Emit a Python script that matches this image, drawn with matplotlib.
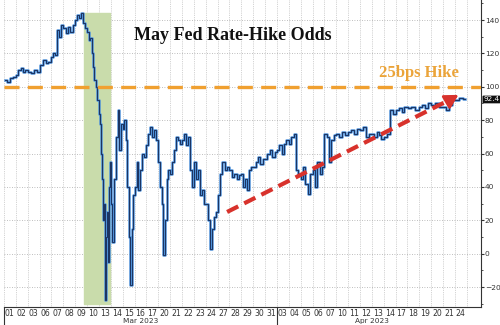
import numpy as np
import matplotlib.pyplot as plt

# trading days on the x axis
days = ['01', '02', '03', '06', '07', '08', '09', '10', '13', '14', '15', '16', '17',
        '20', '21', '22', '23', '24', '27', '28', '29', '30', '31',
        '03', '04', '05', '06', '07', '10', '11', '12', '13', '14', '17', '18', '19',
        '20', '21', '24']
months = ['Mar 2023', 'Apr 2023']
month_start = [0, 23]

# intraday odds (%), one list per trading day
odds = [
    [104, 103, 105, 106],
    [107, 110, 111, 109, 110],
    [109, 108, 110, 109],
    [113, 116, 114, 115],
    [118, 120, 119, 134, 130, 137],
    [135, 132, 136, 133, 137],
    [140, 143, 141, 144, 138, 135],
    [133, 128, 129, 120, 112, 104, 100, 92],
    [84, 78, 60, 45, 20, 30, -28, 10, 25, -5, 40, 55],
    [30, 7, 45, 70, 86, 62, 78],
    [75, 80, 68, 40, 10, -19, 15, 35],
    [40, 55, 38, 50, 60, 58],
    [65, 72, 76, 70, 74, 68],
    [55, 40, 30, -1, 20, 45, 50],
    [48, 55, 62, 70, 68, 66],
    [68, 72, 65, 70, 50, 40],
    [55, 45, 50, 35, 38, 30],
    [30, 20, 3, 15, 22, 25],
    [35, 48, 55, 50, 52],
    [50, 46, 48, 45, 47],
    [48, 40, 45, 38, 50, 52],
    [52, 55, 58, 54, 57],
    [57, 60, 62, 58, 61],
    [62, 65, 60, 66, 68],
    [66, 70, 72, 50, 48],
    [45, 52, 42, 36, 48],
    [50, 40, 55, 48, 52],
    [72, 70, 55, 68, 71],
    [72, 70, 73, 71],
    [73, 74, 72, 75],
    [74, 76, 70, 72],
    [72, 70, 73, 71, 69],
    [70, 72, 86, 84],
    [86, 87, 85, 88],
    [87, 88, 86],
    [88, 89, 87, 90],
    [89, 90, 88],
    [88, 86, 89, 92],
    [92, 93, 92.4],
]
last_value = 92.4
hike_level = 100

# annotation positions (day index, odds)
band_days = (6.2, 8.4)
band_odds = (-30, 144)
arrow_start = (18.3, 25)
arrow_end = (38.0, 96)

xs, ys = [], []
for i, vals in enumerate(odds):
    n = len(vals)
    for k, v in enumerate(vals):
        xs.append(i - 0.5 + (k + 0.5) / n)
        ys.append(v)

fig = plt.figure(figsize=(5, 3.25), dpi=100)
ax = fig.add_axes([0.008, 0.055, 0.954, 0.945])

ax.set_xlim(-0.5, 39.7)
ax.set_ylim(-32, 152)

# grid
for b in np.arange(-0.5, len(days), 1):
    ax.axvline(b, color='#c4c4c4', lw=0.6, ls=(0, (1, 1.2)), zorder=0)
for yv in range(-20, 141, 20):
    ax.axhline(yv, color='#a8a8a8', lw=0.6, ls=(0, (1, 2)), zorder=0)

# SVB window
ax.fill_between(band_days, band_odds[0], band_odds[1], color='#c9dcab', zorder=1)

ax.plot(xs, ys, drawstyle='steps-mid', color='#4d8fd6', lw=1.8, zorder=3)
ax.plot(xs, ys, drawstyle='steps-mid', color='#1b3360', lw=0.7, zorder=4)

ax.axhline(hike_level, color='#f0a030', lw=2.4, dashes=(4.5, 2.5), zorder=5)
ax.text(34.45, 108.4, '25bps Hike', color='#eba43a', fontsize=12,
        fontweight='bold', family='Liberation Serif', ha='center', va='center',
        zorder=6)

ax.text(0.479, 0.885, 'May Fed Rate-Hike Odds', transform=ax.transAxes,
        fontsize=13, fontweight='bold', family='Liberation Serif',
        ha='center', va='center', color='#111111')

red = '#d8322c'
ax.plot([arrow_start[0], arrow_end[0] - 0.8], [arrow_start[1], arrow_end[1] - 3.3],
        color=red, lw=3, dashes=(3, 1.6), zorder=6)
ax.annotate('', xy=arrow_end, xytext=(arrow_end[0] - 1.2, arrow_end[1] - 5),
            arrowprops=dict(arrowstyle='-|>,head_width=0.45,head_length=0.8',
                            color=red, lw=2), zorder=6)

# axes styling
for s in ['top', 'left']:
    ax.spines[s].set_visible(False)
ax.spines['right'].set_color('#333333')
ax.spines['bottom'].set_color('#333333')
ax.spines['right'].set_linewidth(0.8)
ax.spines['bottom'].set_linewidth(0.8)

ax.yaxis.tick_right()
ax.set_yticks(range(-20, 141, 20))
ax.set_yticks(range(-30, 151, 10), minor=True)
ax.tick_params(axis='y', which='major', length=2, labelsize=5.4,
               labelcolor='#333333', color='#333333', pad=0.8)
ax.tick_params(axis='y', which='minor', length=1.2, color='#333333')

ax.set_xticks(range(len(days)))
ax.set_xticklabels(days)
ax.tick_params(axis='x', length=0, labelsize=5.6, labelcolor='#333333', pad=1.2)

# month separators and labels
for j, m in enumerate(months):
    start = month_start[j]
    end = month_start[j + 1] if j + 1 < len(month_start) else len(days)
    ax.plot([start - 0.5, start - 0.5], [0, -0.055], transform=ax.get_xaxis_transform(),
            color='#333333', lw=0.8, clip_on=False)
    ax.text((start + end - 1) / 2, -0.044, m, transform=ax.get_xaxis_transform(),
            ha='center', va='center', fontsize=5.3, color='#333333')

ax.text(1.005, last_value, f'{last_value}', transform=ax.get_yaxis_transform(),
        ha='left', va='center', fontsize=5.2, color='white',
        bbox=dict(boxstyle='round,pad=0.12', fc='#111111', ec='none'))

fig.savefig('out.png', dpi=100)
